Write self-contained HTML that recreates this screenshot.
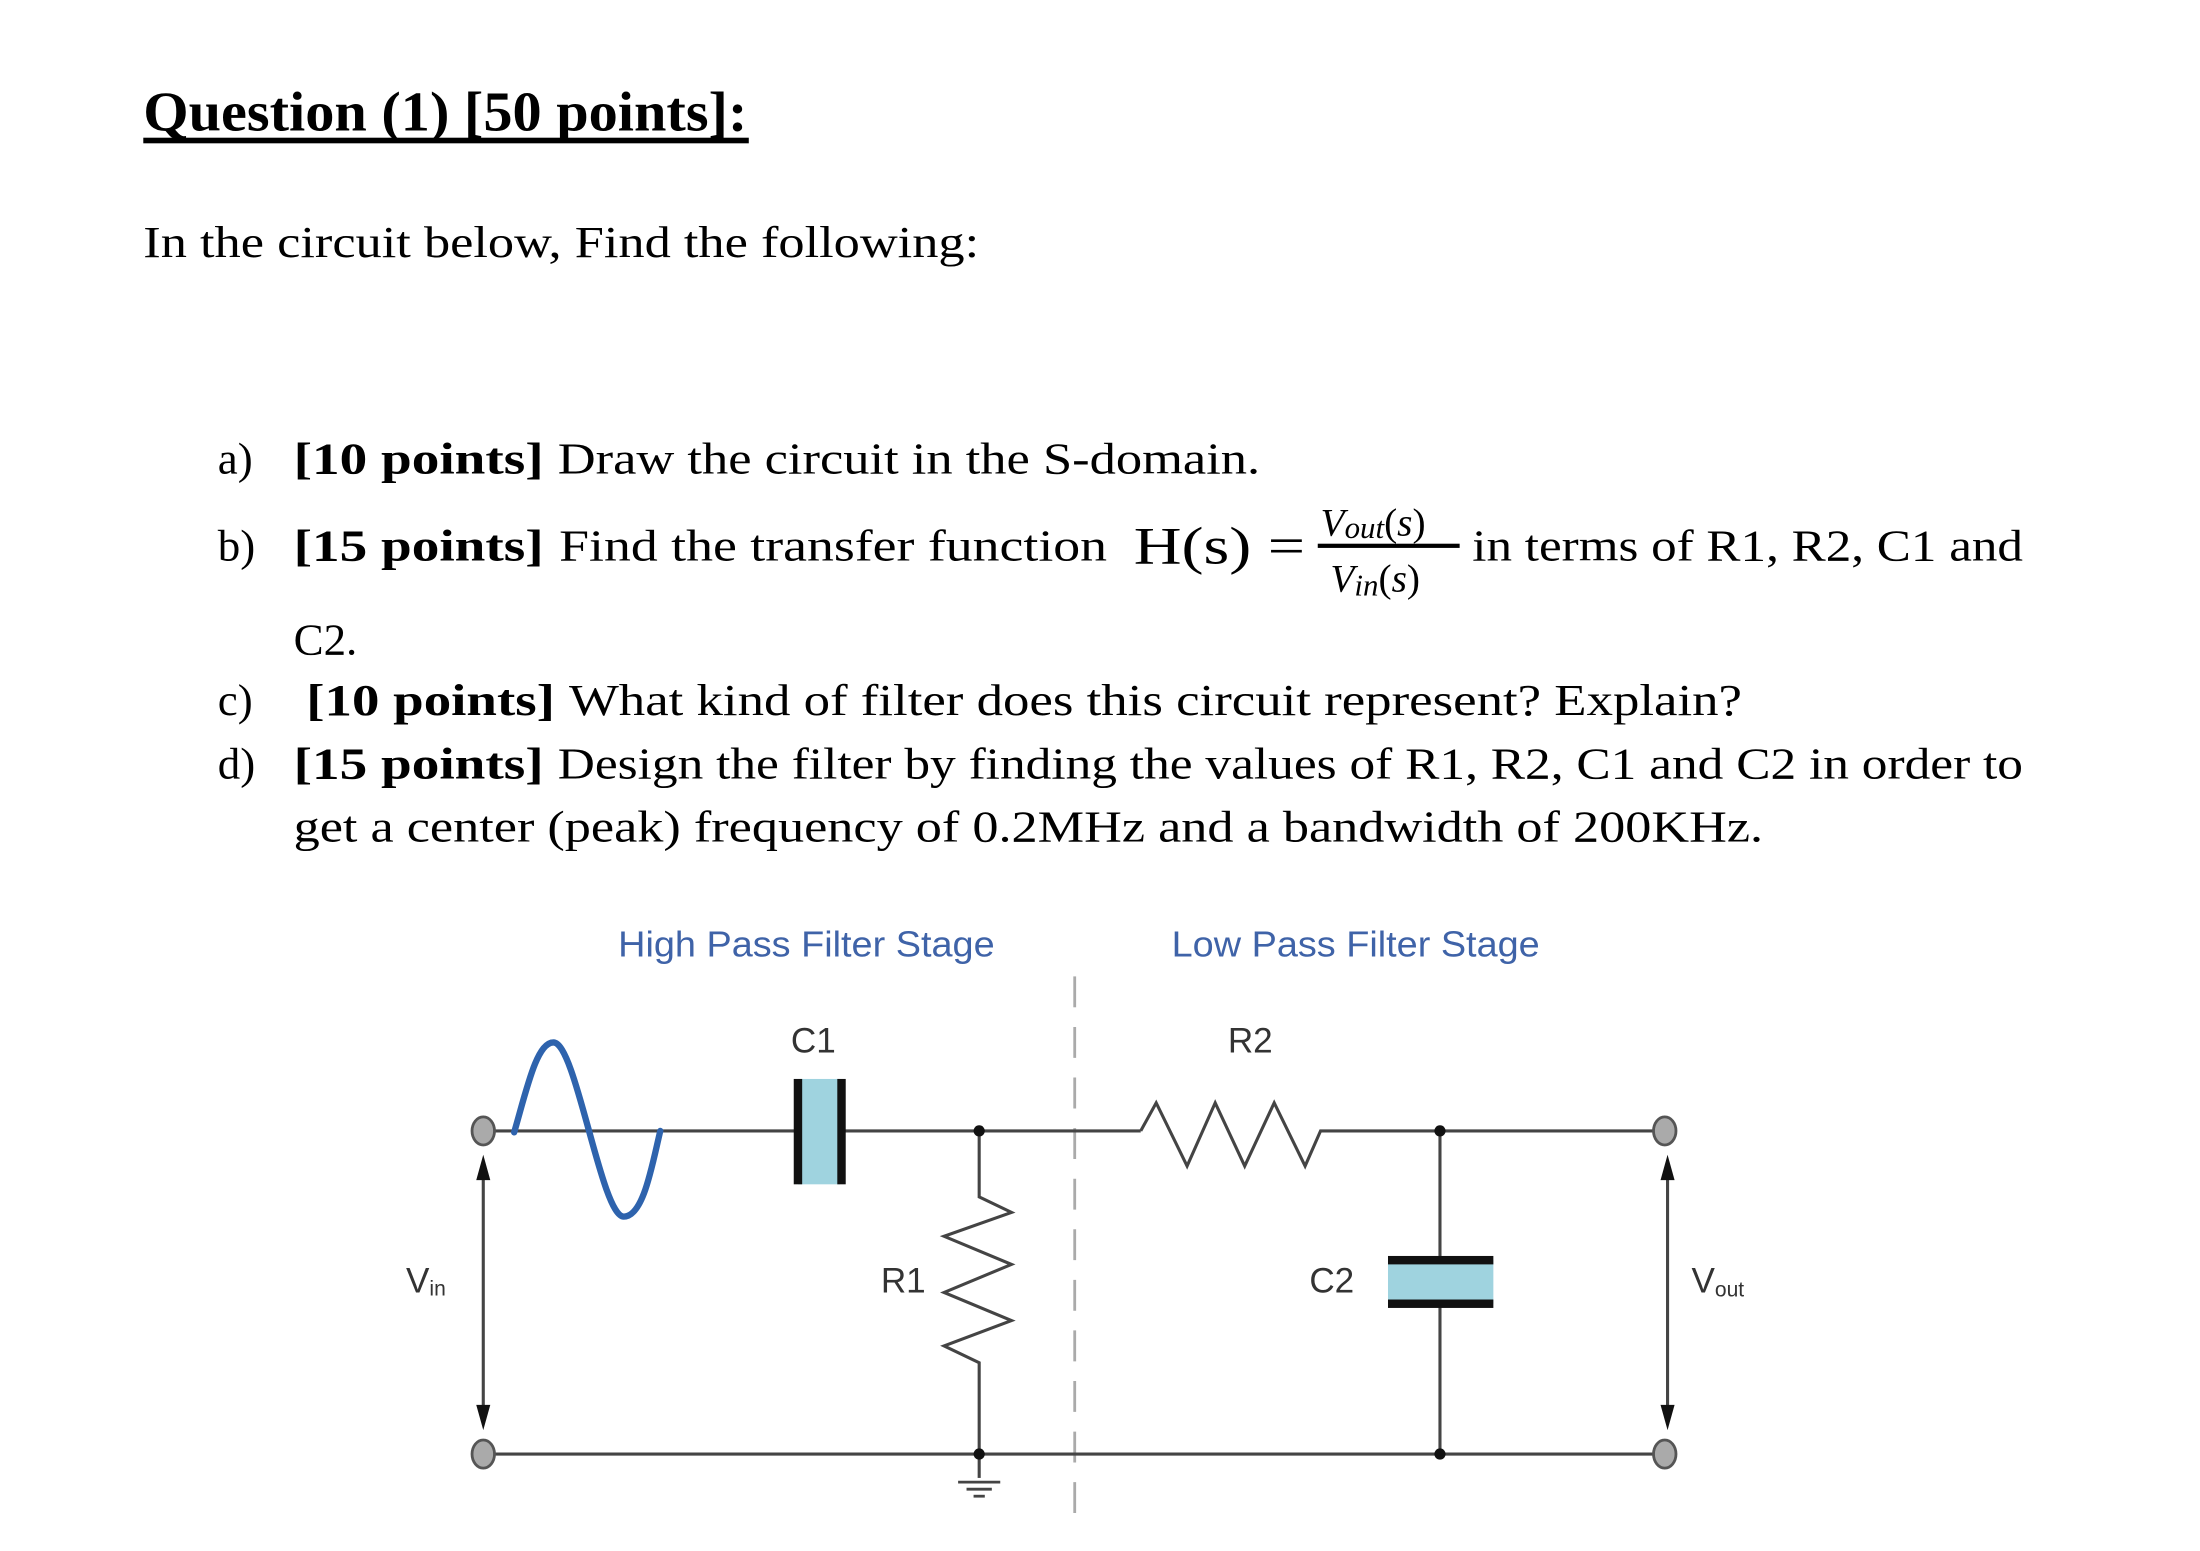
<!DOCTYPE html>
<html><head><meta charset="utf-8"><style>
html,body{margin:0;padding:0;background:#fff;}
svg{display:block;}
.s{font-family:"Liberation Serif",serif;fill:#000;}
.a{font-family:"Liberation Sans",sans-serif;}
</style></head><body>
<svg width="2200" height="1551" viewBox="0 0 1566 1104" xmlns="http://www.w3.org/2000/svg">
<rect width="1566" height="1104" fill="#fff"/>
<g class="s">
<text x="102" y="93" font-size="40" font-weight="bold" textLength="430" lengthAdjust="spacingAndGlyphs">Question (1) [50 points]:</text>
<rect x="102" y="98" width="431" height="4" fill="#000"/>
<text x="102" y="183" font-size="32" textLength="595" lengthAdjust="spacingAndGlyphs">In the circuit below, Find the following:</text>

<text x="155" y="337" font-size="32">a)</text>
<text x="209" y="337" font-size="32" font-weight="bold" textLength="178" lengthAdjust="spacingAndGlyphs">[10 points]</text>
<text x="397" y="337" font-size="32" textLength="500" lengthAdjust="spacingAndGlyphs">Draw the circuit in the S-domain.</text>

<text x="155" y="399" font-size="32">b)</text>
<text x="209" y="399" font-size="32" font-weight="bold" textLength="178" lengthAdjust="spacingAndGlyphs">[15 points]</text>
<text x="398" y="399" font-size="32" textLength="390" lengthAdjust="spacingAndGlyphs">Find the transfer function</text>
<text x="807" y="401" font-size="38" textLength="122" lengthAdjust="spacingAndGlyphs">H(s) =</text>
<text x="940" y="381" font-size="28"><tspan font-style="italic">V</tspan><tspan font-style="italic" font-size="22" dy="2">out</tspan><tspan dy="-2">(</tspan><tspan font-style="italic">s</tspan>)</text>
<rect x="938" y="387" width="101" height="3" fill="#000"/>
<text x="947" y="421" font-size="28"><tspan font-style="italic">V</tspan><tspan font-style="italic" font-size="22" dy="3">in</tspan><tspan dy="-3">(</tspan><tspan font-style="italic">s</tspan>)</text>
<text x="1048" y="399" font-size="32" textLength="392" lengthAdjust="spacingAndGlyphs">in terms of R1, R2, C1 and</text>
<text x="209" y="466" font-size="32">C2.</text>

<text x="155" y="509" font-size="32">c)</text>
<text x="218" y="509" font-size="32" font-weight="bold" textLength="177" lengthAdjust="spacingAndGlyphs">[10 points]</text>
<text x="405" y="509" font-size="32" textLength="835" lengthAdjust="spacingAndGlyphs">What kind of filter does this circuit represent? Explain?</text>

<text x="155" y="554" font-size="32">d)</text>
<text x="209" y="554" font-size="32" font-weight="bold" textLength="178" lengthAdjust="spacingAndGlyphs">[15 points]</text>
<text x="397" y="554" font-size="32" textLength="1043" lengthAdjust="spacingAndGlyphs">Design the filter by finding the values of R1, R2, C1 and C2 in order to</text>
<text x="209" y="599" font-size="32" textLength="1046" lengthAdjust="spacingAndGlyphs">get a center (peak) frequency of 0.2MHz and a bandwidth of 200KHz.</text>
</g>

<g class="a">
<text x="440" y="681" font-size="26" fill="#3f63a8" textLength="268" lengthAdjust="spacingAndGlyphs">High Pass Filter Stage</text>
<text x="834" y="681" font-size="26" fill="#3f63a8" textLength="262" lengthAdjust="spacingAndGlyphs">Low Pass Filter Stage</text>
<text x="563" y="749" font-size="25" fill="#333">C1</text>
<text x="874" y="749" font-size="25" fill="#333">R2</text>
<text x="627" y="920" font-size="25" fill="#333">R1</text>
<text x="932" y="920" font-size="25" fill="#333">C2</text>
<text x="289" y="920" font-size="25" fill="#333">V<tspan font-size="15" dy="2">in</tspan></text>
<text x="1204" y="920" font-size="25" fill="#333">V<tspan font-size="15" dy="3">out</tspan></text>
</g>

<line x1="765" y1="695" x2="765" y2="1090" stroke="#aaa" stroke-width="2" stroke-dasharray="22,14"/>

<g stroke="#444" stroke-width="2.2" fill="none">
<line x1="350" y1="805" x2="568" y2="805"/>
<line x1="598" y1="805" x2="812" y2="805"/>
<polyline points="812,805 823,785 845,830 865,785 886,830 907,785 929,830 940,805 1180,805"/>
<line x1="350" y1="1035" x2="1180" y2="1035"/>
<polyline points="697,805 697,852 720,863 672,880 720,900 672,920 720,940 672,958 697,970 697,1035"/>
<line x1="697" y1="1035" x2="697" y2="1052"/>
<line x1="1025" y1="805" x2="1025" y2="897"/>
<line x1="1025" y1="928" x2="1025" y2="1035"/>
<line x1="344" y1="835" x2="344" y2="1005"/>
<line x1="1187" y1="835" x2="1187" y2="1005"/>
</g>
<g stroke="#444" stroke-width="2">
<line x1="682" y1="1055" x2="712" y2="1055"/>
<line x1="688" y1="1060" x2="706" y2="1060"/>
<line x1="693" y1="1065" x2="701" y2="1065"/>
</g>
<g fill="#111">
<polygon points="344,822 339,840 349,840"/>
<polygon points="344,1018 339,1000 349,1000"/>
<polygon points="1187,822 1182,840 1192,840"/>
<polygon points="1187,1018 1182,1000 1192,1000"/>
<circle cx="697" cy="805" r="4"/>
<circle cx="697" cy="1035" r="4"/>
<circle cx="1025" cy="805" r="4"/>
<circle cx="1025" cy="1035" r="4"/>
</g>
<g fill="#aaa" stroke="#555" stroke-width="2">
<ellipse cx="344" cy="805" rx="8" ry="10"/>
<ellipse cx="344" cy="1035" rx="8" ry="10"/>
<ellipse cx="1185" cy="805" rx="8" ry="10"/>
<ellipse cx="1185" cy="1035" rx="8" ry="10"/>
</g>
<rect x="568" y="768" width="30" height="75" fill="#9fd3df"/>
<rect x="565" y="768" width="6" height="75" fill="#111"/>
<rect x="596" y="768" width="6" height="75" fill="#111"/>
<rect x="988" y="897" width="75" height="31" fill="#9fd3df"/>
<rect x="988" y="894" width="75" height="6" fill="#111"/>
<rect x="988" y="925" width="75" height="6" fill="#111"/>
<path d="M366,806 C375,775 382,742 394,742 C410,742 428,866 444,866 C458,866 464,830 470,805" stroke="#2e63ad" stroke-width="4.5" fill="none" stroke-linecap="round"/>
</svg>
</body></html>
